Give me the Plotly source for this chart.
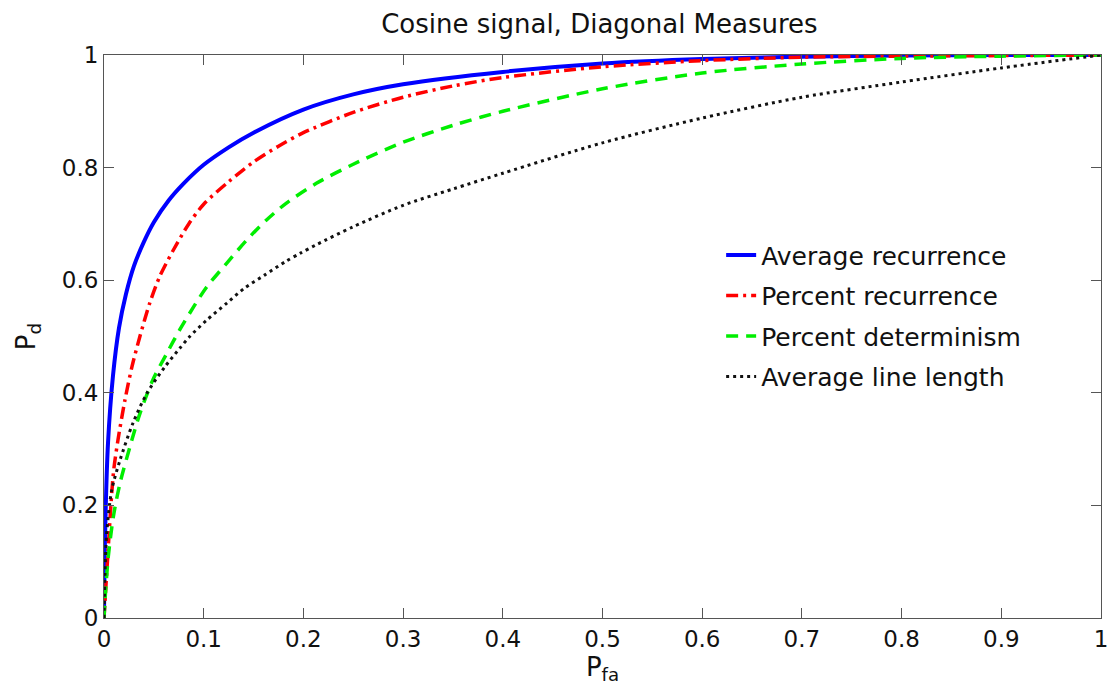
import plotly.graph_objects as go

# ---- data ----
avg_rec_x = [0, 0.001, 0.004, 0.009, 0.015, 0.022, 0.03, 0.04, 0.05, 0.065, 0.08, 0.1, 0.125, 0.15, 0.2, 0.25, 0.3, 0.4, 0.5, 0.6, 0.7, 0.8, 0.9, 1.0]
avg_rec_y = [0, 0.14, 0.31, 0.43, 0.515, 0.575, 0.625, 0.668, 0.703, 0.742, 0.772, 0.805, 0.836, 0.862, 0.903, 0.93, 0.948, 0.97, 0.985, 0.993, 0.997, 0.999, 1.0, 1.0]

pct_rec_x = [0, 0.0027, 0.0094, 0.014, 0.021, 0.028, 0.036, 0.046, 0.056, 0.07, 0.085, 0.1, 0.125, 0.15, 0.175, 0.2, 0.25, 0.3, 0.35, 0.4, 0.5, 0.6, 0.7, 0.8, 0.9, 1.0]
pct_rec_y = [0, 0.079, 0.257, 0.316, 0.387, 0.446, 0.5, 0.56, 0.607, 0.655, 0.7, 0.735, 0.775, 0.81, 0.838, 0.862, 0.898, 0.925, 0.945, 0.96, 0.979, 0.99, 0.996, 0.998, 0.999, 1.0]

pct_det_x = [0, 0.001, 0.0043, 0.0094, 0.016, 0.026, 0.036, 0.049, 0.063, 0.076, 0.09, 0.103, 0.123, 0.143, 0.163, 0.183, 0.213, 0.25, 0.3, 0.35, 0.4, 0.5, 0.6, 0.7, 0.8, 0.9, 1.0]
pct_det_y = [0, 0.032, 0.109, 0.18, 0.239, 0.304, 0.363, 0.423, 0.47, 0.512, 0.553, 0.588, 0.63, 0.671, 0.707, 0.737, 0.772, 0.806, 0.845, 0.875, 0.9, 0.94, 0.968, 0.984, 0.994, 0.998, 1.0]

avg_len_x = [0, 0.001, 0.0027, 0.0077, 0.016, 0.029, 0.043, 0.061, 0.076, 0.086, 0.103, 0.123, 0.141, 0.161, 0.182, 0.197, 0.213, 0.25, 0.3, 0.35, 0.4, 0.5, 0.6, 0.7, 0.8, 0.9, 1.0]
avg_len_y = [0, 0.079, 0.15, 0.227, 0.28, 0.346, 0.399, 0.446, 0.479, 0.5, 0.529, 0.559, 0.586, 0.609, 0.633, 0.648, 0.663, 0.695, 0.733, 0.762, 0.79, 0.844, 0.888, 0.925, 0.952, 0.977, 1.0]

series_names = ["Average recurrence", "Percent recurrence", "Percent determinism", "Average line length"]

x_ticks = [0, 0.1, 0.2, 0.3, 0.4, 0.5, 0.6, 0.7, 0.8, 0.9, 1]
x_tick_labels = ["0", "0.1", "0.2", "0.3", "0.4", "0.5", "0.6", "0.7", "0.8", "0.9", "1"]
y_ticks = [0, 0.2, 0.4, 0.6, 0.8, 1]
y_tick_labels = ["0", "0.2", "0.4", "0.6", "0.8", "1"]

FONT = "DejaVu Sans, Liberation Sans, Arial, sans-serif"

styles = [
    dict(color="#0000ff", width=4, dash="solid"),
    dict(color="#ff0000", width=3.5, dash="12px,5px,3px,5px"),
    dict(color="#00ee00", width=3.5, dash="12px,8px"),
    dict(color="#111111", width=3, dash="3px,4px"),
]

fig = go.Figure()
for i, (xs, ys) in enumerate([(avg_rec_x, avg_rec_y), (pct_rec_x, pct_rec_y),
                              (pct_det_x, pct_det_y), (avg_len_x, avg_len_y)]):
    fig.add_trace(go.Scatter(
        x=xs, y=ys, mode="lines", name=series_names[i],
        line=dict(shape="spline", smoothing=0.8, **styles[i]),
        legendgroup=f"g{i}",
    ))

axis_common = dict(
    showline=True, linecolor="#555555", linewidth=1, mirror="ticks",
    ticks="inside", ticklen=10, tickcolor="#555555", tickwidth=1,
    showgrid=False, zeroline=False, automargin=False,
    tickfont=dict(family=FONT, size=23, color="#111111"),
)

fig.update_layout(
    width=1110, height=698,
    margin=dict(l=104, r=9, t=55, b=80),
    paper_bgcolor="white", plot_bgcolor="white",
    font=dict(family=FONT, size=23, color="#111111"),
    title=dict(text="Cosine signal, Diagonal Measures", x=0.54, xanchor="center",
               y=0.966, yanchor="middle", yref="container", automargin=False,
               font=dict(family=FONT, size=26, color="#111111")),
    xaxis=dict(range=[0, 1], tickvals=x_ticks, ticktext=x_tick_labels,
               title=dict(text="P<sub>fa</sub>", standoff=2,
                          font=dict(family=FONT, size=26)),
               **axis_common),
    yaxis=dict(range=[0, 1], tickvals=y_ticks, ticktext=y_tick_labels,
               title=dict(text="P<sub>d</sub>", standoff=18,
                          font=dict(family=FONT, size=26)),
               **axis_common),
    legend=dict(x=0.619, y=0.685, xanchor="left", yanchor="top",
                bgcolor="rgba(0,0,0,0)", borderwidth=0,
                font=dict(family=FONT, size=25, color="#111111"),
                traceorder="grouped", tracegroupgap=5),
    showlegend=True,
)

fig.write_html("out.html")
